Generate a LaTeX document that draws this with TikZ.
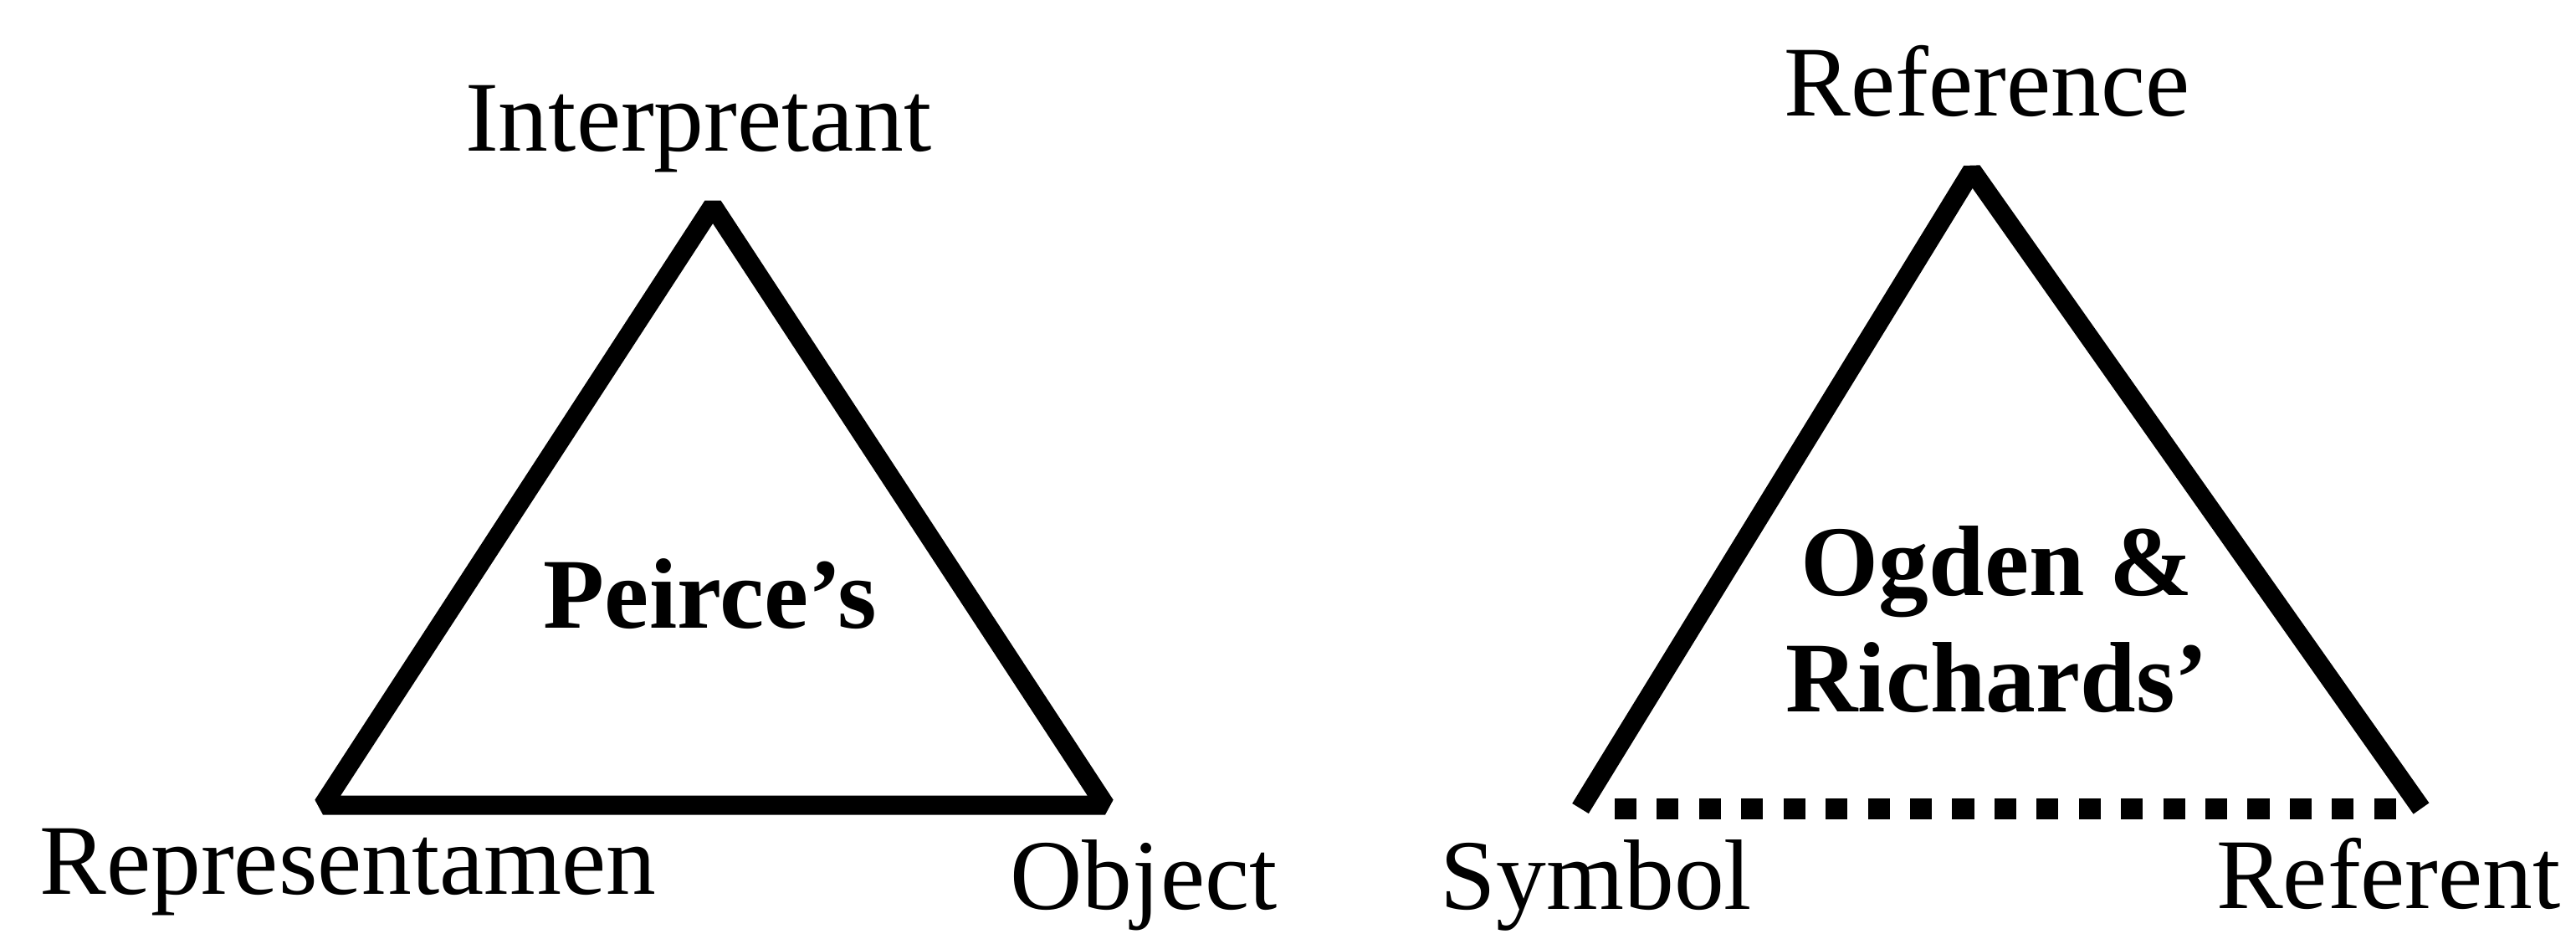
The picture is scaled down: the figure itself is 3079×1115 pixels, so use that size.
\documentclass[tikz,border=0pt]{standalone}
\usepackage{fontspec}
\setmainfont{Liberation Serif}
\usepackage{tikz}

\begin{document}
\begin{tikzpicture}[
      x=0.01cm, y=-0.01cm,
      edge/.style={line width=0.23cm, line join=bevel},
      dotedge/.style={line width=0.25cm, dash pattern=on 0.26cm off 0.244cm},
      corner/.style={font=\fontsize{34}{40}\selectfont, anchor=base,
                     inner sep=0pt},
      title/.style={font=\fontsize{34}{39.5}\selectfont\bfseries,
                    align=center, anchor=base, inner sep=0pt}
    ]
    \useasboundingbox (0,0) rectangle (3079,1115);
    % Peirce's triangle
    \coordinate (interp) at (852,246);
    \coordinate (repr) at (386,962);
    \coordinate (obj) at (1321,962);
    \draw[edge] (interp) -- (repr) -- (obj) -- cycle;
    \node[corner] (interpl) at (835,180) {Interpretant};
    \node[corner] (reprl) at (416,1068) {Representamen};
    \node[corner] (objl) at (1367,1086) {Object};
    \node[title] (peirce) at (849,750) {Peirce's};
    % Ogden & Richards' triangle
    \coordinate (refc) at (2357,204);
    \coordinate (sym) at (1889,966);
    \coordinate (rft) at (2894,966);
    \draw[edge] (sym) -- (refc) -- (rft);
    \draw[dotedge, shorten <=0.41cm, shorten >=0.30cm] (sym) -- (rft);
    \node[corner] (refcl) at (2375,138) {Reference};
    \node[corner] (syml) at (1908,1086) {Symbol};
    \node[corner] (rftl) at (2855,1085) {Referent};
    % base anchor sits on the last line
    \node[title] (ogden) at (2387,850) {Ogden \&\\Richards'};
  \end{tikzpicture}
\end{document}
